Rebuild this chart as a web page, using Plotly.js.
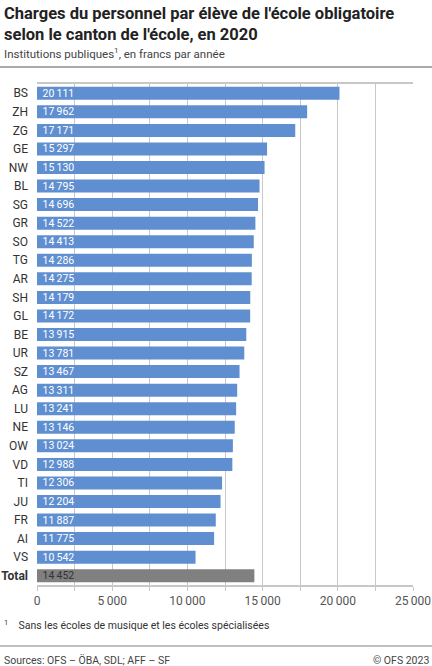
<!DOCTYPE html>
<html><head><meta charset="utf-8">
<script src="https://cdn.plot.ly/plotly-3.0.1.min.js"></script>
<style>body{margin:0;padding:0;background:#fff}#chart{width:432px;height:666px}</style>
</head><body><div id="chart"></div>
<script>
const cantons = ["BS","ZH","ZG","GE","NW","BL","SG","GR","SO","TG","AR","SH","GL","BE","UR","SZ","AG","LU","NE","OW","VD","TI","JU","FR","AI","VS","Total"];
const values = [20111,17962,17171,15297,15130,14795,14696,14522,14413,14286,14275,14179,14172,13915,13781,13467,13311,13241,13146,13024,12988,12306,12204,11887,11775,10542,14452];
const xTicks = [0,5000,10000,15000,20000,25000];

function fmt(v){return String(v).replace(/\B(?=(\d{3})+(?!\d))/g,"\u2009");}
const cats = cantons.map(c => c === "Total" ? "<b>Total</b>" : c);
const colors = cantons.map(c => c === "Total" ? "#808080" : "#5f8fd0");
const textColors = cantons.map(c => c === "Total" ? "#333333" : "#ffffff");

const font = "Roboto, 'Open Sans', sans-serif";
const trace = {
  type: "bar", orientation: "h",
  y: cats, x: values,
  marker: {color: colors, line: {width: 0}},
  text: values.map(v => "\u00a0" + fmt(v)),
  textposition: "inside", insidetextanchor: "start",
  constraintext: "none",
  textfont: {family: font, size: 10.5, color: textColors},
  hoverinfo: "none", cliponaxis: false
};

const pl = 37, pw = 376, pt = 84, ph = 501;
function px(x){return (x - pl)/pw;}
function py(y){return 1 - (y - pt)/ph;}

const layout = {
  width: 432, height: 666,
  margin: {l: 37, r: 19, t: 84, b: 81},
  paper_bgcolor: "#fff", plot_bgcolor: "#fff",
  font: {family: font, size: 11, color: "#333"},
  showlegend: false,
  bargap: 0.3,
  xaxis: {
    range: [0, 25000], tickvals: xTicks, ticktext: xTicks.map(fmt),
    showgrid: true, gridcolor: "#c8c8c8", gridwidth: 1,
    ticks: "outside", ticklen: 4, tickcolor: "#c8c8c8", tickwidth: 1,
    minor: {dtick: 2500, tick0: 0, showgrid: true, gridcolor: "#c8c8c8", gridwidth: 1, ticks: "outside", ticklen: 4, tickcolor: "#c8c8c8"},
    showline: true, linecolor: "#c8c8c8", linewidth: 2, mirror: true,
    tickfont: {family: font, size: 12, color: "#555"},
    zeroline: false, fixedrange: true
  },
  yaxis: {
    autorange: "reversed", type: "category",
    showline: false, showgrid: false, ticks: "", ticklen: 0,
    ticklabelstandoff: 8,
    tickfont: {family: font, size: 12, color: "#333"},
    fixedrange: true
  },
  shapes: [
    {type: "line", xref: "paper", yref: "paper", x0: px(0), x1: px(432), y0: py(67), y1: py(67), line: {color: "#555", width: 1}},
    {type: "line", xref: "paper", yref: "paper", x0: px(0), x1: px(432), y0: py(646), y1: py(646), line: {color: "#aaa", width: 1.5}}
  ],
  annotations: [
    {xref: "paper", yref: "paper", x: px(2), y: py(2), xanchor: "left", yanchor: "top", align: "left",
     text: "<b>Charges du personnel par élève de l'école obligatoire</b>",
     showarrow: false, font: {family: font, size: 16.5, color: "#222"}},
    {xref: "paper", yref: "paper", x: px(2), y: py(23), xanchor: "left", yanchor: "top", align: "left",
     text: "<b>selon le canton de l'école, en 2020</b>",
     showarrow: false, font: {family: font, size: 16.5, color: "#222"}},
    {xref: "paper", yref: "paper", x: px(2), y: py(44), xanchor: "left", yanchor: "top", align: "left",
     text: "Institutions publiques<sup>1</sup>, en francs par année",
     showarrow: false, font: {family: font, size: 11.5, color: "#444"}},
    {xref: "paper", yref: "paper", x: px(2), y: py(616), xanchor: "left", yanchor: "top", align: "left",
     text: "<sup>1</sup>    Sans les écoles de musique et les écoles spécialisées",
     showarrow: false, font: {family: font, size: 10.5, color: "#333"}},
    {xref: "paper", yref: "paper", x: px(2), y: py(652), xanchor: "left", yanchor: "top", align: "left",
     text: "Sources: OFS – ÖBA, SDL; AFF – SF",
     showarrow: false, font: {family: font, size: 10.5, color: "#444"}},
    {xref: "paper", yref: "paper", x: px(431), y: py(652), xanchor: "right", yanchor: "top", align: "right",
     text: "© OFS 2023",
     showarrow: false, font: {family: font, size: 10.5, color: "#444"}}
  ]
};

Plotly.newPlot("chart", [trace], layout, {staticPlot: true, displayModeBar: false});
</script></body></html>
